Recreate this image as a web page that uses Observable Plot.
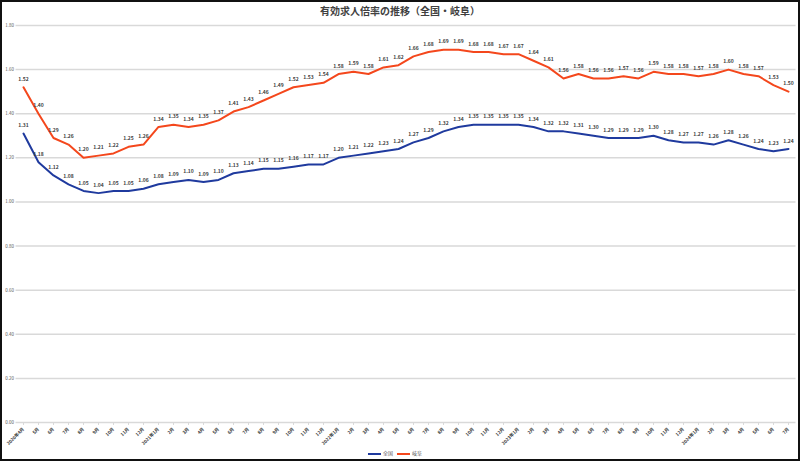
<!DOCTYPE html>
<html><head><meta charset="utf-8">
<script src="https://cdn.jsdelivr.net/npm/d3@7"></script>
<script src="https://cdn.jsdelivr.net/npm/@observablehq/plot@0.6"></script>
<style>
body{margin:0;background:#fff;}
#wrap{position:relative;width:800px;height:461px;overflow:hidden;background:#fff;font-family:"Noto Sans CJK JP","Noto Sans",sans-serif;}
#frame{position:absolute;left:0;top:0;width:800px;height:461px;box-sizing:border-box;border:2px solid #111;pointer-events:none;}
#title{position:absolute;top:5px;left:400px;transform:translateX(-50%);white-space:nowrap;font-size:10px;line-height:12px;font-weight:bold;color:#404040;}
#chart{position:absolute;top:20px;left:0;}
#legend{position:absolute;top:449px;left:395px;transform:translateX(-50%);white-space:nowrap;font-size:5px;color:#595959;line-height:7px;}
#legend span.item{display:inline-block;margin:0 2px;}
#legend span.sw{display:inline-block;width:13px;height:2px;vertical-align:middle;margin-right:2px;}
</style>
</head><body>
<div id="wrap">
  <div id="title">有効求人倍率の推移（全国・岐阜）</div>
  <div id="chart"></div>
  <div id="legend"></div>
  <div id="frame"></div>
</div>
<script>
const months = ["2020年4月","5月","6月","7月","8月","9月","10月","11月","12月",
  "2021年1月","2月","3月","4月","5月","6月","7月","8月","9月","10月","11月","12月",
  "2022年1月","2月","3月","4月","5月","6月","7月","8月","9月","10月","11月","12月",
  "2023年1月","2月","3月","4月","5月","6月","7月","8月","9月","10月","11月","12月",
  "2024年1月","2月","3月","4月","5月","6月","7月"];
const zenkoku = [1.31,1.18,1.12,1.08,1.05,1.04,1.05,1.05,1.06,1.08,1.09,1.10,1.09,1.10,1.13,1.14,1.15,1.15,1.16,1.17,1.17,1.20,1.21,1.22,1.23,1.24,1.27,1.29,1.32,1.34,1.35,1.35,1.35,1.35,1.34,1.32,1.32,1.31,1.30,1.29,1.29,1.29,1.30,1.28,1.27,1.27,1.26,1.28,1.26,1.24,1.23,1.24];
const gifu = [1.52,1.40,1.29,1.26,1.20,1.21,1.22,1.25,1.26,1.34,1.35,1.34,1.35,1.37,1.41,1.43,1.46,1.49,1.52,1.53,1.54,1.58,1.59,1.58,1.61,1.62,1.66,1.68,1.69,1.69,1.68,1.68,1.67,1.67,1.64,1.61,1.56,1.58,1.56,1.56,1.57,1.56,1.59,1.58,1.58,1.57,1.58,1.60,1.58,1.57,1.53,1.50];
const seriesNames = ["全国","岐阜"];
const seriesColors = ["#1f3a9e","#f4471c"];
const yTicks = [0,0.2,0.4,0.6,0.8,1.0,1.2,1.4,1.6,1.8];

const rows = [];
months.forEach((m,i)=>{
  rows.push({i, s:seriesNames[0], v:zenkoku[i]});
  rows.push({i, s:seriesNames[1], v:gifu[i]});
});
const idx = months.map((_,i)=>i);

const chart = Plot.plot({
  width: 800,
  height: 432,
  marginTop: 5,
  marginBottom: 30,
  marginLeft: 15.5,
  marginRight: 4.5,
  style: {fontFamily: '"Noto Sans CJK JP","Noto Sans",sans-serif', background: "transparent", color: "#595959"},
  x: {type: "point", domain: idx, padding: 0.5, label: null},
  y: {domain: [0, 1.8], label: null},
  color: {domain: seriesNames, range: seriesColors},
  marks: [
    Plot.ruleY(yTicks, {stroke: "#d9d9d9", strokeWidth: 1.5}),
    Plot.axisY({ticks: yTicks, tickFormat: d => d.toFixed(2), tickSize: 0, tickPadding: 2, fontSize: 4.5, label: null}),
    Plot.axisX({ticks: idx, tickFormat: i => months[i], tickRotate: -45, tickSize: 3, stroke: "#d9d9d9", fill: "#333", fontWeight: "bold", tickPadding: 3, fontSize: 4.5, label: null}),
    Plot.line(rows, {x: "i", y: "v", z: "s", stroke: "s", strokeWidth: 2}),
    Plot.text(rows, {x: "i", y: "v", text: d => d.v.toFixed(2), dy: -8, fontSize: 5, fontWeight: "bold", fill: "#404040"})
  ]
});
document.getElementById("chart").appendChild(chart);

const lg = document.getElementById("legend");
seriesNames.forEach((n,k)=>{
  const it = document.createElement("span"); it.className="item";
  const sw = document.createElement("span"); sw.className="sw"; sw.style.background = seriesColors[k];
  it.appendChild(sw); it.appendChild(document.createTextNode(n));
  lg.appendChild(it);
});
</script>
</body></html>
